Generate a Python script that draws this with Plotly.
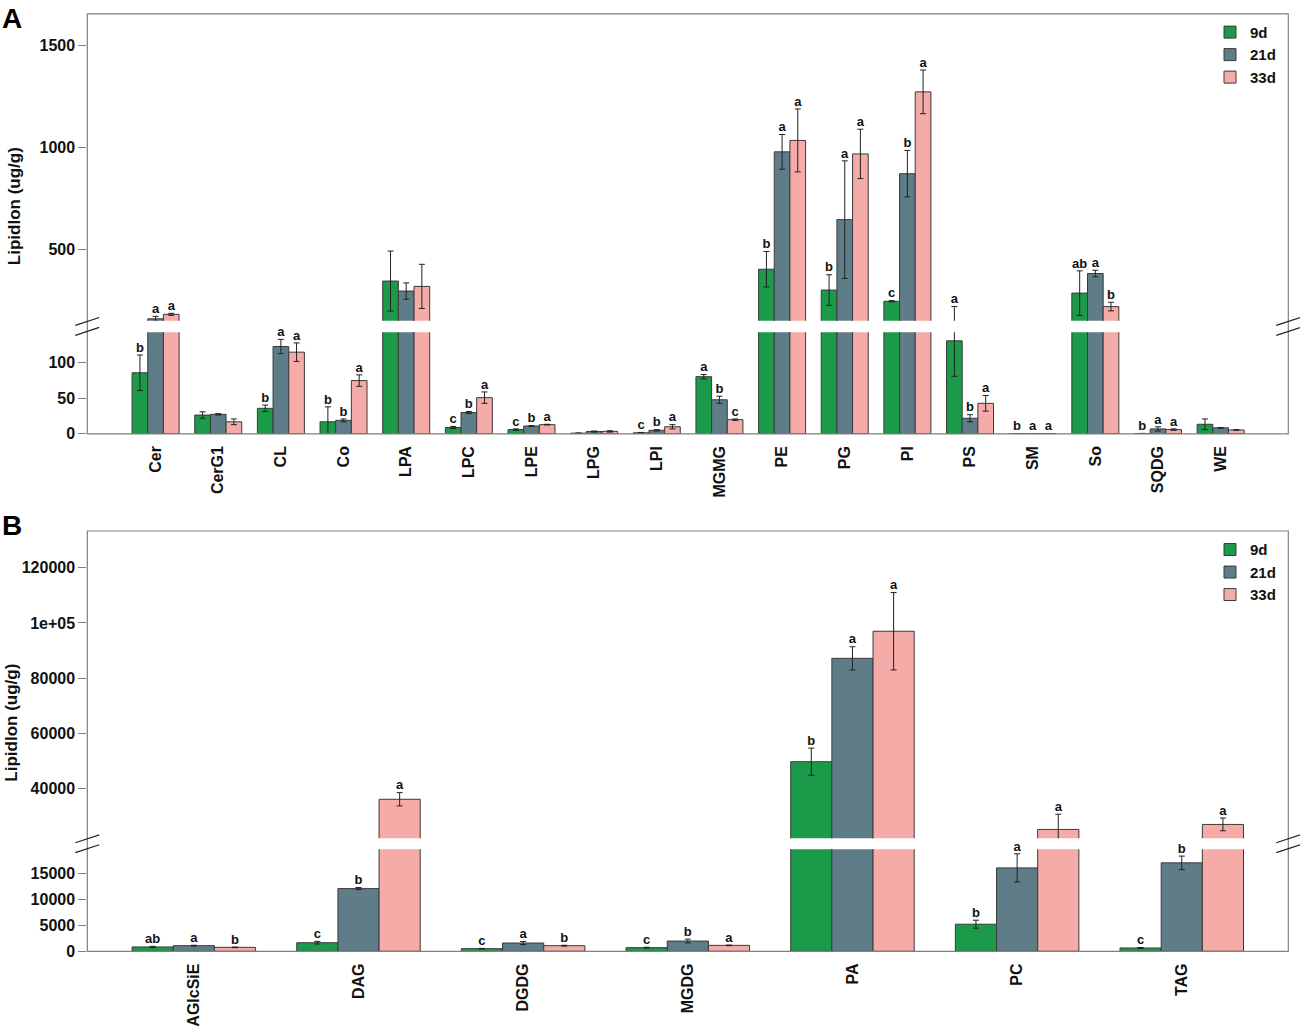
import plotly.graph_objects as go

# ---------------- data ----------------
series_names = ["9d", "21d", "33d"]
colors = ["#1b9a4a", "#5f7d88", "#f5aba7"]

cats_a = ["Cer", "CerG1", "CL", "Co", "LPA", "LPC", "LPE", "LPG", "LPI", "MGMG",
          "PE", "PG", "PI", "PS", "SM", "So", "SQDG", "WE"]
a_9d = [86, 26.5, 36, 17, 345, 9, 6, 1, 1.5, 80.5, 403, 301, 246, 131, 0.2, 286, 0.5, 13.5]
a_9d_err = [25, 4.5, 4.5, 21, 147, 1.5, 1, 0.3, 0.5, 3, 87, 75, 3, 89, 0, 109, 0.2, 7.5]
a_9d_err_low = [25, 4.5, 4.5, 21, 147, 1.5, 1, 0.3, 0.5, 3, 87, 75, 3, 50, 0, 109, 0.2, 7.5]
a_21d = [160, 27.5, 123, 19, 296, 30, 11, 3.3, 5, 48, 978, 646, 871, 22, 0.4, 382, 7, 8.5]
a_21d_err = [12, 1, 10, 2, 40, 1.5, 0.5, 0.7, 1, 5, 85, 288, 114, 5, 0, 16, 3, 0.5]
a_33d = [182, 17, 115, 75, 319, 51, 13, 3.5, 10, 20, 1034, 968, 1272, 43, 0.4, 220, 6, 5.5]
a_33d_err = [5, 4, 13, 8, 108, 8, 0.5, 1, 3, 1, 154, 121, 107, 11, 0, 21, 1, 0.5]
a_let_9d = ["b", "", "b", "b", "", "c", "c", "", "c", "a", "b", "b", "c", "a", "b", "ab", "b", ""]
a_let_21d = ["a", "", "a", "b", "", "b", "b", "", "b", "b", "a", "a", "b", "b", "a", "a", "a", ""]
a_let_33d = ["a", "", "a", "a", "", "a", "a", "", "a", "c", "a", "a", "a", "a", "a", "b", "a", ""]

cats_b = ["AGlcSiE", "DAG", "DGDG", "MGDG", "PA", "PC", "TAG"]
b_9d = [835, 1650, 510, 700, 49800, 5200, 640]
b_9d_err = [120, 250, 60, 80, 4900, 760, 80]
b_21d = [1080, 12030, 1590, 1970, 87200, 16000, 16960]
b_21d_err = [80, 200, 300, 350, 4200, 2700, 1300]
b_33d = [760, 36200, 1080, 1140, 97000, 25300, 27100]
b_33d_err = [60, 2400, 80, 60, 14000, 5500, 2300]
b_let_9d = ["ab", "c", "c", "c", "b", "b", "c"]
b_let_21d = ["a", "b", "a", "b", "a", "a", "b"]
b_let_33d = ["b", "a", "b", "a", "a", "a", "a"]

a_lower_ticks = [0, 50, 100]
a_lower_ticktext = ["0", "50", "100"]
a_upper_ticks = [500, 1000, 1500]
a_upper_ticktext = ["500", "1000", "1500"]
b_lower_ticks = [0, 5000, 10000, 15000]
b_lower_ticktext = ["0", "5000", "10000", "15000"]
b_upper_ticks = [40000, 60000, 80000, 100000, 120000]
b_upper_ticktext = ["40000", "60000", "80000", "1e+05", "120000"]

y_title = "Lipidlon (ug/g)"

# ---------------- layout geometry ----------------
W, H = 1300, 1030
FONT = "Liberation Sans, Arial, sans-serif"
FRAME = "#808080"


def fx(p):
    return p / W


def fy(p):
    return 1 - p / H


a_lo_rng = [0, 143]
a_hi_rng = [150, 1654]
b_lo_rng = [0, 19580]
b_hi_rng = [22080, 133260]

offsets = [-0.25, 0.0, 0.25]
bw = 0.25

fig = go.Figure()


def add_panel(cats, vals, errs, errs_low, letters, xlo, xhi, ylo, yhi, lo_max, legend):
    for j in range(3):
        xs = [i + offsets[j] for i in range(len(cats))]
        for seg, (xa, ya) in enumerate([(xlo, ylo), (xhi, yhi)]):
            fig.add_trace(go.Bar(
                x=xs, y=vals[j], width=bw, name=series_names[j],
                marker=dict(color=colors[j], line=dict(color="#3a3a3a", width=1)),
                error_y=dict(type="data", array=errs[j], arrayminus=errs_low[j],
                             symmetric=False, color="#222222", thickness=1, width=3),
                xaxis=xa, yaxis=ya, showlegend=(seg == 0), legend=legend,
                hoverinfo="skip"))
        for seg, (xa, ya) in enumerate([(xlo, ylo), (xhi, yhi)]):
            tx, ty, tt = [], [], []
            for i in range(len(cats)):
                if not letters[j][i]:
                    continue
                top = vals[j][i] + errs[j][i]
                in_hi = top > lo_max
                if (seg == 1) == in_hi:
                    tx.append(xs[i])
                    ty.append(top)
                    tt.append(letters[j][i])
            fig.add_trace(go.Scatter(
                x=tx, y=ty, text=tt, mode="text", textposition="top center",
                textfont=dict(family=FONT, size=13, color="#111111", weight="bold"),
                cliponaxis=False, showlegend=False, xaxis=xa, yaxis=ya,
                hoverinfo="skip"))


add_panel(cats_a, [a_9d, a_21d, a_33d], [a_9d_err, a_21d_err, a_33d_err],
          [a_9d_err_low, a_21d_err, a_33d_err],
          [a_let_9d, a_let_21d, a_let_33d], "x", "x2", "y", "y2", a_lo_rng[1], "legend")
add_panel(cats_b, [b_9d, b_21d, b_33d], [b_9d_err, b_21d_err, b_33d_err],
          [b_9d_err, b_21d_err, b_33d_err],
          [b_let_9d, b_let_21d, b_let_33d], "x3", "x4", "y3", "y4", b_lo_rng[1], "legend2")

xdom = [fx(87.3), fx(1288.3)]
tickfont = dict(family=FONT, size=16, color="#111111", weight="bold")
yaxis_common = dict(ticks="outside", ticklen=8, tickcolor=FRAME, tickwidth=1,
                    showgrid=False, zeroline=False, showline=False, tickfont=tickfont)
xaxis_common = dict(showgrid=False, zeroline=False, showline=False, ticks="",
                    tickfont=tickfont, tickangle=-90)
legfont = dict(family=FONT, size=15, color="#111111", weight="bold")

fig.update_layout(
    width=W, height=H, autosize=False,
    margin=dict(l=0, r=0, t=0, b=0),
    plot_bgcolor="white", paper_bgcolor="white",
    barmode="overlay",
    xaxis=dict(domain=xdom, anchor="y", range=[-1.09, 18.08],
               tickvals=list(range(len(cats_a))), ticktext=cats_a,
               ticklabelstandoff=8, **xaxis_common),
    yaxis=dict(domain=[fy(437.7), fy(335.2)], anchor="x", range=a_lo_rng,
               tickvals=a_lower_ticks, ticktext=a_lower_ticktext, **yaxis_common),
    xaxis2=dict(domain=xdom, anchor="y2", matches="x", visible=False),
    yaxis2=dict(domain=[fy(323.7), fy(14)], anchor="x2", range=a_hi_rng,
                tickvals=a_upper_ticks, ticktext=a_upper_ticktext, **yaxis_common),
    xaxis3=dict(domain=xdom, anchor="y3", range=[-0.647, 6.647],
                tickvals=list(range(len(cats_b))), ticktext=cats_b,
                ticklabelstandoff=8, **xaxis_common),
    yaxis3=dict(domain=[fy(959.7), fy(856.7)], anchor="x3", range=b_lo_rng,
                tickvals=b_lower_ticks, ticktext=b_lower_ticktext, **yaxis_common),
    xaxis4=dict(domain=xdom, anchor="y4", matches="x3", visible=False),
    yaxis4=dict(domain=[fy(845.7), fy(535.7)], anchor="x4", range=b_hi_rng,
                tickvals=b_upper_ticks, ticktext=b_upper_ticktext, **yaxis_common),
    legend=dict(x=fx(1210), y=fy(16), xanchor="left", yanchor="top",
                font=legfont, bgcolor="rgba(0,0,0,0)", itemclick=False),
    legend2=dict(x=fx(1210), y=fy(538), xanchor="left", yanchor="top",
                 font=legfont, bgcolor="rgba(0,0,0,0)", itemclick=False),
)

shapes = []
for top, bot in [(14, 437.7), (535.7, 959.7)]:
    shapes.append(dict(type="rect", xref="paper", yref="paper",
                       x0=fx(87.3), x1=fx(1288.3), y0=fy(bot), y1=fy(top),
                       line=dict(color=FRAME, width=1.2), layer="above"))
for gap_c in [329.3, 851.2]:
    for xc in [87.3, 1288.3]:
        for d in [-5, 5]:
            shapes.append(dict(type="line", xref="paper", yref="paper",
                               x0=fx(xc - 12), y0=fy(gap_c + d + 4),
                               x1=fx(xc + 12), y1=fy(gap_c + d - 4),
                               line=dict(color="#222222", width=1.2)))
fig.update_layout(shapes=shapes)

annotations = [
    dict(text="A", x=fx(0), y=fy(1), xref="paper", yref="paper", xanchor="left",
         yanchor="top", showarrow=False,
         font=dict(family=FONT, size=28, color="#000000", weight="bold")),
    dict(text="B", x=fx(0), y=fy(512), xref="paper", yref="paper", xanchor="left",
         yanchor="top", showarrow=False,
         font=dict(family=FONT, size=28, color="#000000", weight="bold")),
    dict(text=y_title, x=fx(14), y=fy(208), xref="paper", yref="paper",
         textangle=-90, showarrow=False, xanchor="center", yanchor="middle",
         font=dict(family=FONT, size=17, color="#111111", weight="bold")),
    dict(text=y_title, x=fx(12), y=fy(729), xref="paper", yref="paper",
         textangle=-90, showarrow=False, xanchor="center", yanchor="middle",
         font=dict(family=FONT, size=17, color="#111111", weight="bold")),
]
fig.update_layout(annotations=annotations)

fig.write_html("out.html", config={"displayModeBar": False},
               post_script="document.body.style.margin='0';")
